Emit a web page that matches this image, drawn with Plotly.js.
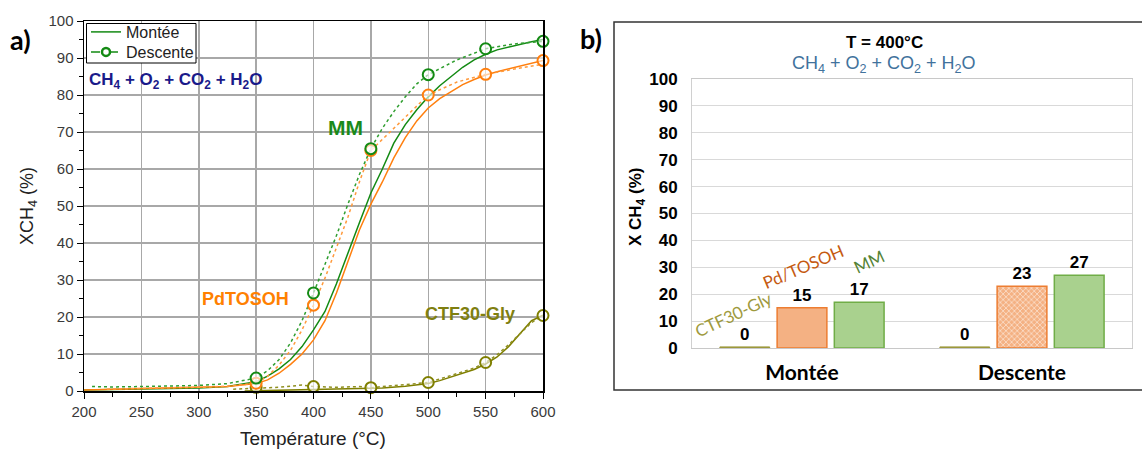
<!DOCTYPE html>
<html>
<head>
<meta charset="utf-8">
<script src="https://cdn.plot.ly/plotly-3.0.1.min.js"></script>
<style>html,body{margin:0;padding:0;background:#fff;}#chart{width:1142px;height:449px;}</style>
</head>
<body>
<div id="chart"></div>
<script>
// ---------- Panel a) data: conversion XCH4 (%) vs temperature (°C) ----------
const mmUpT   = [200,225,250,275,300,325,350,360,370,380,390,400,410,420,430,440,450,460,470,480,490,500,510,520,530,540,550,560,570,580,590,600];
const mmUpX   = [0.3,0.4,0.5,0.6,0.8,1.2,2.5,4,6,8.5,12,16.5,21.5,29,37.5,45.5,53.5,60,67,72,76,79.5,82.5,85,87.5,89.5,91,92.2,93,93.8,94.4,95];
const pdUpT   = [200,225,250,275,300,325,350,360,370,380,390,400,410,420,430,440,450,460,470,480,490,500,510,520,530,540,550,560,570,580,590,600];
const pdUpX   = [0.3,0.5,0.8,0.9,1,1.2,2,3,4.8,7.2,10,13.8,19,26.5,35,43.5,50.5,56.5,63,68.5,73,76.5,79,81,82.8,84.2,85.4,86.3,87.1,87.8,88.5,89.3];
const ctfUpT  = [340,360,380,400,420,440,460,480,500,510,520,530,540,550,560,570,580,590,600];
const ctfUpX  = [0,0.1,0.2,0.3,0.4,0.5,0.8,1.3,2.0,2.8,3.8,4.7,5.8,7.3,9.2,12,15.5,19,20.5];

const mmDownT  = [207,225,250,275,300,325,350,360,370,380,390,400,410,420,430,440,450,460,470,480,490,500,525,550,575,600];
const mmDownX  = [1.2,1.1,1.2,1.3,1.5,2.0,3.5,5.5,8.5,13,19,26.5,34,42,50.5,58.5,65.5,71,75.5,79.5,83,85.5,89.5,92.5,93.8,94.5];
const pdDownT  = [220,250,275,300,325,350,360,370,380,390,400,410,420,430,440,450,460,470,480,490,500,525,550,575,600];
const pdDownX  = [0.5,0.8,0.9,1.0,1.3,2.1,4.0,7.0,11,16.5,23.2,30.5,38.5,47,56.5,65,68,71,74,77,80,83.5,85.6,87,88.3];
const ctfDownT = [330,350,370,390,400,420,440,450,470,490,500,520,540,550,560,570,580,590,600];
const ctfDownX = [0.5,0.8,1.0,1.6,1.2,1.0,1.2,0.9,1.5,2.0,2.3,4.2,6.2,7.7,9.8,12.5,15.5,18.5,20.4];

const markT    = [350,400,450,500,550,600];
const mmMark   = [3.5,26.5,65.5,85.5,92.5,94.5];
const pdMark   = [2.1,23.2,65,80,85.6,89.3];
const ctfMark  = [1.0,1.2,0.9,2.3,7.7,20.4];

// ---------- Panel b) data: X CH4 at T = 400 °C ----------
const phases   = ['Montée','Descente'];
const ctfBar   = [0.4,0.4];
const pdBar    = [15,23];
const mmBar    = [17,27];

const W = 1142, H = 449;
const px = v => v / W;
const py = v => 1 - v / H;

const cMM = '#138a13', cMMd = '#2f9e2f';
const cPd = '#ff7f0e', cPdd = '#ff9a3c';
const cCtf = '#7f7f00', cCtfd = '#8f8f20';

const arial = 'Liberation Sans, Arial, sans-serif';
const lato = 'Lato, Open Sans, sans-serif';
const barText = {family:arial, size:17, color:'#000', weight:'bold'};

const traces = [
  {x: mmUpT, y: mmUpX, mode:'lines', line:{color:cMM, width:1.5}, name:'Montée', showlegend:true, legend:'legend', xaxis:'x', yaxis:'y'},
  {x: [null], y: [null], mode:'lines+markers', line:{color:cMM, width:1.5, dash:'dash'}, marker:{symbol:'circle-open', size:8, color:cMM, line:{width:2.5}}, name:'Descente', showlegend:true, legend:'legend2', xaxis:'x', yaxis:'y'},
  {x: pdUpT, y: pdUpX, mode:'lines', line:{color:cPd, width:1.5}, showlegend:false, xaxis:'x', yaxis:'y'},
  {x: ctfUpT, y: ctfUpX, mode:'lines', line:{color:cCtf, width:1.5}, showlegend:false, xaxis:'x', yaxis:'y'},
  {x: mmDownT, y: mmDownX, mode:'lines', line:{color:cMMd, width:1.5, dash:'dot'}, showlegend:false, xaxis:'x', yaxis:'y'},
  {x: pdDownT, y: pdDownX, mode:'lines', line:{color:cPdd, width:1.5, dash:'dot'}, showlegend:false, xaxis:'x', yaxis:'y'},
  {x: ctfDownT, y: ctfDownX, mode:'lines', line:{color:cCtfd, width:1.5, dash:'dot'}, showlegend:false, xaxis:'x', yaxis:'y'},
  {x: markT, y: ctfMark, mode:'markers', marker:{symbol:'circle', size:11, color:'rgba(255,255,255,0.6)', line:{color:cCtf, width:2}}, showlegend:false, cliponaxis:false, xaxis:'x', yaxis:'y'},
  {x: markT, y: pdMark, mode:'markers', marker:{symbol:'circle', size:11, color:'rgba(255,255,255,0.6)', line:{color:cPd, width:2}}, showlegend:false, cliponaxis:false, xaxis:'x', yaxis:'y'},
  {x: markT, y: mmMark, mode:'markers', marker:{symbol:'circle', size:11, color:'rgba(255,255,255,0.6)', line:{color:cMM, width:2}}, showlegend:false, cliponaxis:false, xaxis:'x', yaxis:'y'},
  // bars
  {type:'bar', x: phases, y: ctfBar, name:'CTF30-Gly', marker:{color:'#a09c3c', line:{color:'#9a963a', width:1}}, texttemplate:'%{y:.0f}', textposition:'outside', cliponaxis:false, textfont:barText, showlegend:false, xaxis:'x2', yaxis:'y2'},
  {type:'bar', x: phases, y: pdBar, name:'Pd/TOSOH', marker:{color:'#F4B183', line:{color:'#ED7D31', width:1.5}, pattern:{shape:['', 'x'], fillmode:'overlay', fgcolor:'#ffffff', fgopacity:0.9, size:4, solidity:0.25}}, texttemplate:'%{y:.0f}', textposition:'outside', cliponaxis:false, textfont:barText, showlegend:false, xaxis:'x2', yaxis:'y2'},
  {type:'bar', x: phases, y: mmBar, name:'MM', marker:{color:'#A9D18E', line:{color:'#70AD47', width:1.5}}, texttemplate:'%{y:.0f}', textposition:'outside', cliponaxis:false, textfont:barText, showlegend:false, xaxis:'x2', yaxis:'y2'}
];

function ann(text, x, y, font, extra) {
  return Object.assign({text, x:px(x), y:py(y), xref:'paper', yref:'paper', xanchor:'center', yanchor:'middle', showarrow:false, font}, extra || {});
}

const legendStyle = (topPx) => ({
  x: px(86), y: py(topPx), xanchor:'left', yanchor:'top',
  bgcolor:'rgba(0,0,0,0)', borderwidth:0,
  font:{size:16, color:'#222', family:arial}, itemwidth:30, tracegroupgap:0
});

const layout = {
  width: W, height: H,
  margin: {l:0, r:0, t:0, b:0},
  paper_bgcolor: '#fff', plot_bgcolor: '#fff',
  font: {family: arial, color:'#333'},
  barmode: 'group', bargap: 0.22, bargroupgap: 0.13,
  xaxis: {
    domain: [px(84), px(543)], anchor:'y', range:[200,600], dtick:50, tick0:200,
    tickfont:{size:15, color:'#3a3a3a', family:arial},
    ticks:'outside', ticklen:6, tickcolor:'#000', tickwidth:1,
    minor:{dtick:25, ticks:'outside', ticklen:4, tickcolor:'#000', showgrid:false},
    showline:true, linecolor:'#000', linewidth:1.5, mirror:true,
    showgrid:true, gridcolor:'#a8a8a8', gridwidth:1.5, zeroline:false, fixedrange:true
  },
  yaxis: {
    domain: [py(391), py(21)], anchor:'x', range:[0,100], dtick:10,
    tickfont:{size:15, color:'#3a3a3a', family:arial},
    ticks:'outside', ticklen:6, tickcolor:'#000', tickwidth:1,
    minor:{dtick:5, ticks:'outside', ticklen:4, tickcolor:'#000', showgrid:false},
    showline:true, linecolor:'#000', linewidth:1.5, mirror:true,
    showgrid:true, gridcolor:'#a8a8a8', gridwidth:1.5, zeroline:false, fixedrange:true
  },
  xaxis2: {
    domain: [px(692), px(1132)], anchor:'y2', type:'category',
    tickfont:{size:21, color:'#000', family:lato, weight:'bold'},
    ticks:'', ticklabelstandoff:6,
    showline:true, linecolor:'#c8c8c8', linewidth:1, mirror:true, showgrid:false, fixedrange:true
  },
  yaxis2: {
    domain: [py(348), py(79)], anchor:'x2', range:[0,100], dtick:10,
    tickfont:{size:17, color:'#000', family:arial, weight:'bold'},
    ticks:'', ticklabelstandoff:10,
    showline:true, linecolor:'#d0d0d0', linewidth:1, mirror:true,
    showgrid:true, gridcolor:'#d9d9d9', gridwidth:1, zeroline:false, fixedrange:true
  },
  legend: legendStyle(15),
  legend2: legendStyle(35),
  shapes: [
    {type:'rect', xref:'paper', yref:'paper', x0:px(614), x1:1.02, y0:py(390), y1:py(22), line:{color:'#333', width:1.5}, fillcolor:'rgba(0,0,0,0)', layer:'below'},
    {type:'rect', xref:'paper', yref:'paper', x0:px(86.5), x1:px(196), y0:py(63), y1:py(23.5), line:{color:'#000', width:1}, fillcolor:'#fff', layer:'above'}
  ],
  annotations: [
    ann('<b>a)</b>', 8, 40, {family:lato, size:27, color:'#000'}, {xanchor:'left'}),
    ann('<b>b)</b>', 578, 38, {family:lato, size:27, color:'#000'}, {xanchor:'left'}),
    ann('XCH<sub>4</sub> (%)', 28, 206, {family:arial, size:18, color:'#222'}, {textangle:-90}),
    ann('Température (°C)', 313, 438, {family:arial, size:19, color:'#222'}),
    ann('<b>CH<sub>4</sub> + O<sub>2</sub> + CO<sub>2</sub> + H<sub>2</sub>O</b>', 87, 81, {family:arial, size:17, color:'#1a1a8a'}, {xanchor:'left'}),
    ann('<b>MM</b>', 345, 127, {family:arial, size:21, color:'#1a8a1a'}),
    ann('<b>PdTOSOH</b>', 200, 299, {family:arial, size:18, color:'#ff8000'}, {xanchor:'left'}),
    ann('<b>CTF30-Gly</b>', 423, 314, {family:arial, size:18, color:'#7f7f10'}, {xanchor:'left'}),
    // panel b texts
    ann('<b>T = 400°C</b>', 884, 42, {family:arial, size:17, color:'#000'}),
    ann('CH<sub>4</sub> + O<sub>2</sub> + CO<sub>2</sub> + H<sub>2</sub>O', 884, 64, {family:arial, size:18, color:'#41729c'}),
    ann('<b>X CH<sub>4</sub> (%)</b>', 637, 207, {family:arial, size:17, color:'#000'}, {textangle:-90}),
    ann('CTF30-Gly', 733, 314, {family:lato, size:17, color:'#9e9a3e'}, {textangle:-25}),
    ann('Pd/TOSOH', 803, 266, {family:lato, size:17, color:'#c55a11'}, {textangle:-23}),
    ann('MM', 869, 261, {family:lato, size:17, color:'#548235'}, {textangle:-25})
  ]
};

Plotly.newPlot('chart', traces, layout, {displayModeBar:false, staticPlot:true});
</script>
</body>
</html>
